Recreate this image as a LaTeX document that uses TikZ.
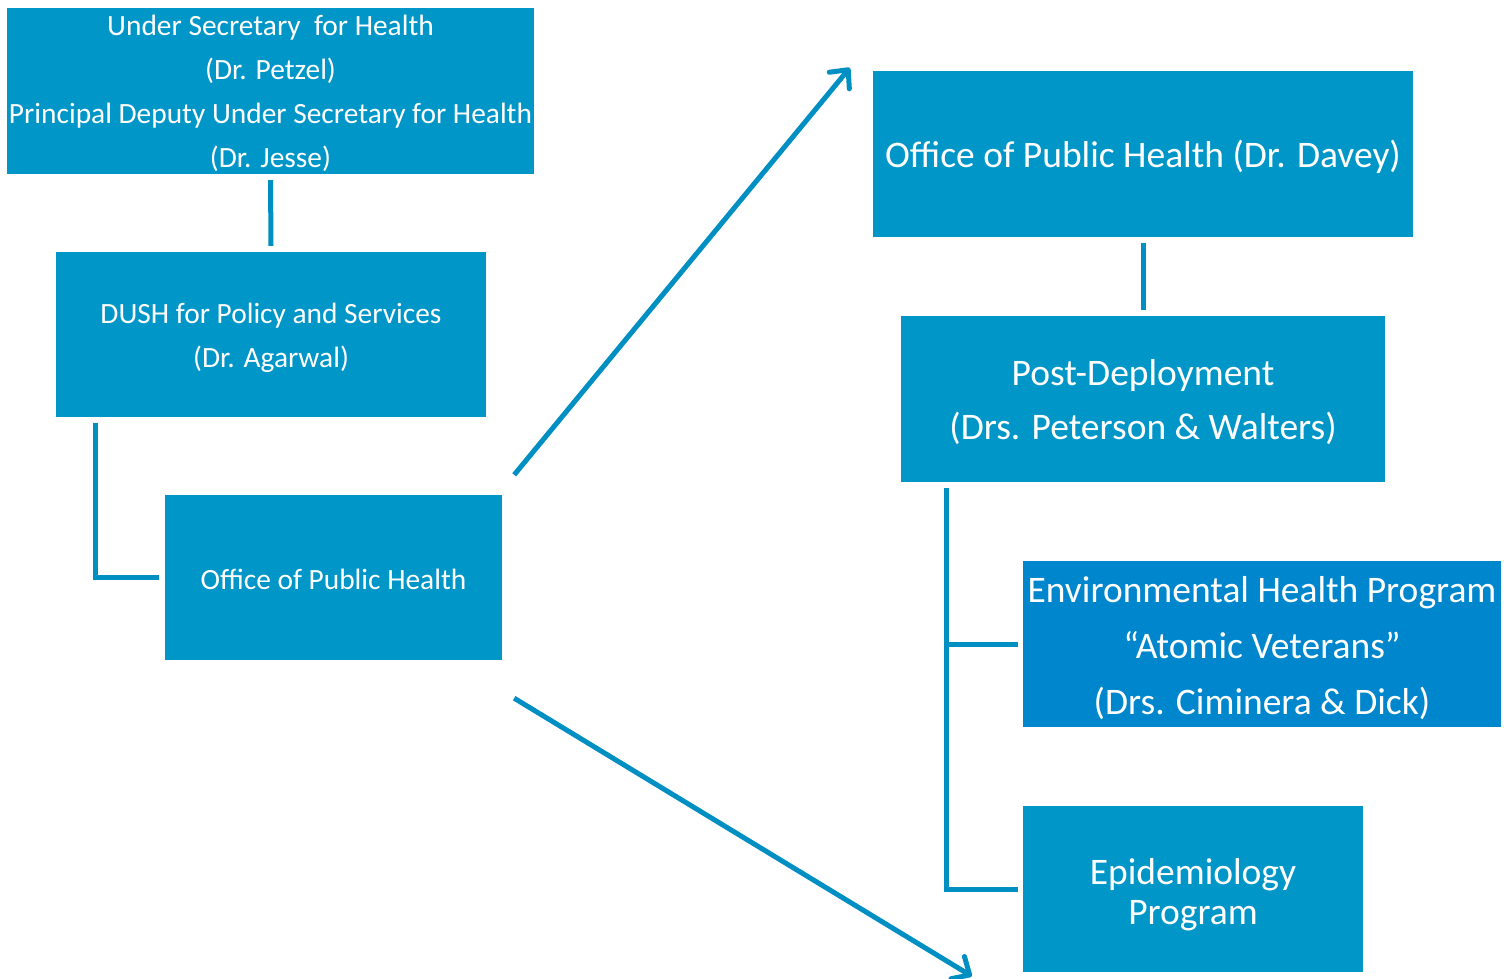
\documentclass[tikz,border=0pt]{standalone}
\usepackage{fontspec}
\setmainfont{Carlito}
\usetikzlibrary{arrows.meta,calc}
\definecolor{boxblue}{RGB}{0,150,200}
\definecolor{envblue}{RGB}{0,134,204}
\definecolor{lineblue}{RGB}{0,143,194}
\tikzset{
  orgbox/.style={fill=boxblue, inner sep=0pt},
  boxtext/.style={text=white, inner sep=0pt, align=center},
  smalltext/.style={boxtext, font=\fontsize{29.4}{44}\selectfont},
  conn/.style={draw=lineblue, line width=5pt},
  bigarrow/.style={draw=lineblue, line width=5pt, -{Straight Barb[length=14pt,width=26pt,round]}},
}
\begin{document}
\begin{tikzpicture}[x=1pt,y=-1pt]
\useasboundingbox[fill=white] (0,0) rectangle (1504,978);
\node[orgbox, minimum width=527pt, minimum height=166pt,
  label={[smalltext, yshift=-2.5pt]center:{Under Secretary\ \ for Health\\(Dr. Petzel)\\Principal Deputy Under Secretary for Health\\(Dr. Jesse)}}] (top) at (270.5,91) {};
\node[orgbox, minimum width=430pt, minimum height=165pt,
  label={[smalltext, yshift=-3pt]center:{DUSH for Policy and Services\\(Dr. Agarwal)}}] (dush) at (271,334.5) {};
\node[orgbox, minimum width=337pt, minimum height=165pt,
  label={[smalltext, yshift=-2pt]center:{Office of Public Health}}] (oph) at (333.5,577.5) {};
\node[orgbox, minimum width=540pt, minimum height=166pt,
  label={[boxtext, font=\fontsize{37.5}{44}\selectfont, yshift=-3pt]center:{Office of Public Health (Dr. Davey)}}] (davey) at (1143,154) {};
\node[orgbox, minimum width=484pt, minimum height=166pt,
  label={[boxtext, font=\fontsize{37.5}{54}\selectfont, yshift=-3pt]center:{Post-Deployment\\(Drs. Peterson \& Walters)}}] (post) at (1143,399) {};
\node[orgbox, fill=envblue, minimum width=478pt, minimum height=166pt,
  label={[boxtext, font=\fontsize{37.5}{56}\selectfont, yshift=-4pt]center:{Environmental Health Program\\“Atomic Veterans”\\(Drs. Ciminera \& Dick)}}] (env) at (1262,644) {};
\node[orgbox, minimum width=340pt, minimum height=166pt,
  label={[boxtext, font=\fontsize{37.5}{40}\selectfont, yshift=-6pt]center:{Epidemiology\\Program}}] (epi) at (1193,889) {};
% connectors
\draw[conn, shorten <=6pt, shorten >=6pt] (top.south) -- (dush.north);
\draw[conn] ([xshift=40pt,yshift=-6pt]dush.south west) |- ([xshift=-6pt]oph.west);
\draw[conn, shorten <=6pt, shorten >=6pt] (davey.south) -- (post.north);
\coordinate (pbr) at ([xshift=46pt,yshift=-6pt]post.south west);
\draw[conn] (pbr) |- ([xshift=-5pt]epi.west);
\draw[conn] (pbr |- env.west) -- ([xshift=-5pt]env.west);
% arrows
\coordinate (a1s) at ([xshift=12pt,yshift=20pt]oph.north east);
\coordinate (a1e) at ([xshift=-23pt,yshift=3pt]davey.north west);
\coordinate (a2s) at ([xshift=12pt,yshift=-38pt]oph.south east);
\coordinate (a2e) at ([xshift=-51pt,yshift=-4pt]epi.south west);
\draw[bigarrow] (a1s) -- (a1e);
\draw[bigarrow] (a2s) -- (a2e);
\end{tikzpicture}
\end{document}
